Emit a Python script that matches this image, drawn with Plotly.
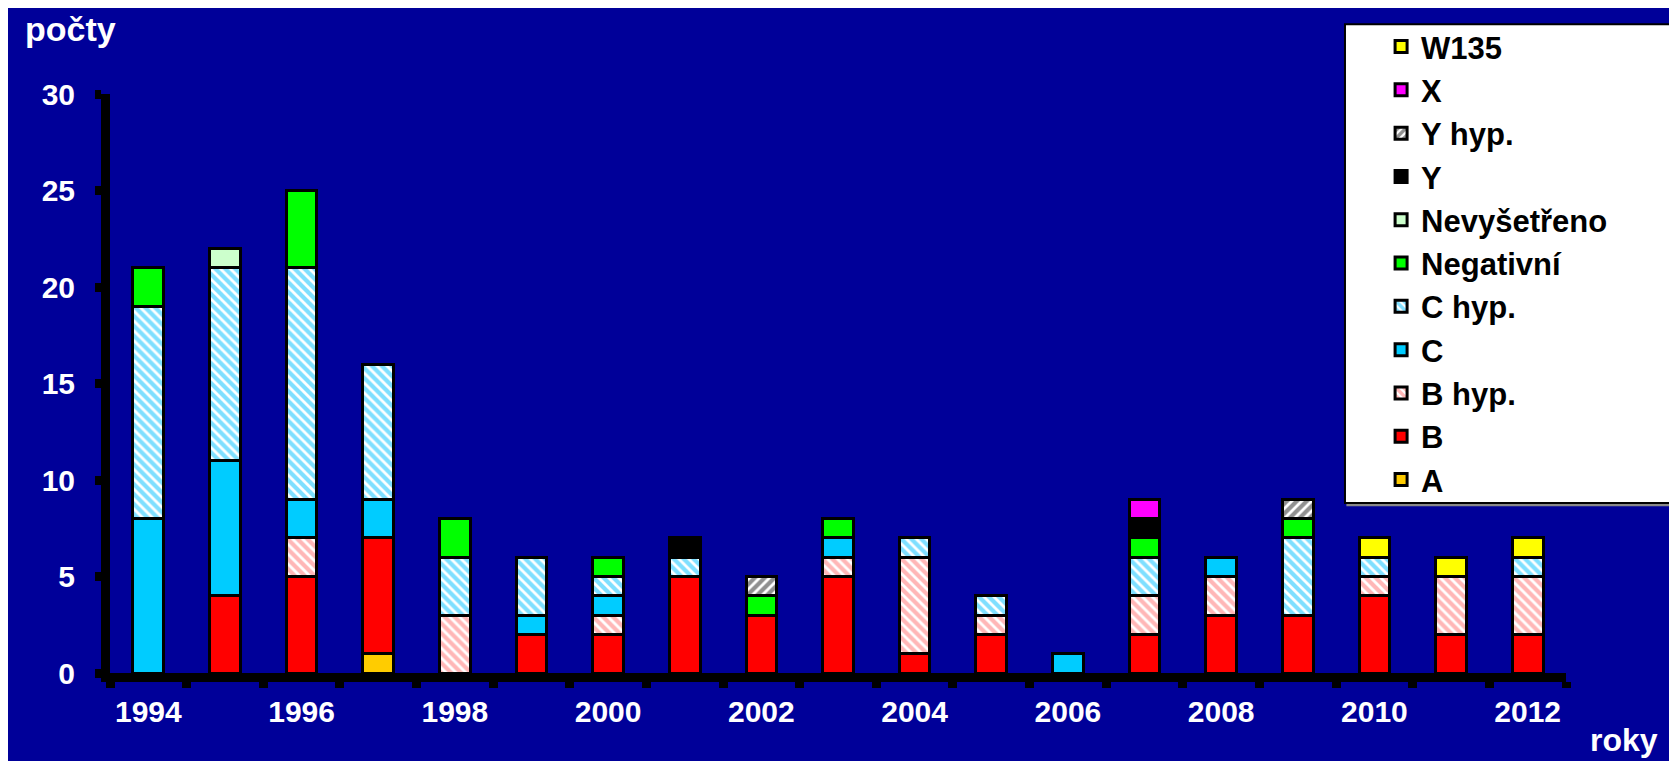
import plotly.graph_objects as go

years = list(range(1994, 2013))

# stack order from bottom to top
a_vals = [0, 0, 0, 1, 0, 0, 0, 0, 0, 0, 0, 0, 0, 0, 0, 0, 0, 0, 0]
b_vals = [0, 4, 5, 6, 0, 2, 2, 5, 3, 5, 1, 2, 0, 2, 3, 3, 4, 2, 2]
b_hyp = [0, 0, 2, 0, 3, 0, 1, 0, 0, 1, 5, 1, 0, 2, 2, 0, 1, 3, 3]
c_vals = [8, 7, 2, 2, 0, 1, 1, 0, 0, 1, 0, 0, 1, 0, 1, 0, 0, 0, 0]
c_hyp = [11, 10, 12, 7, 3, 3, 1, 1, 0, 0, 1, 1, 0, 2, 0, 4, 1, 0, 1]
negativni = [2, 0, 4, 0, 2, 0, 1, 0, 1, 1, 0, 0, 0, 1, 0, 1, 0, 0, 0]
nevysetreno = [0, 1, 0, 0, 0, 0, 0, 0, 0, 0, 0, 0, 0, 0, 0, 0, 0, 0, 0]
y_vals = [0, 0, 0, 0, 0, 0, 0, 1, 0, 0, 0, 0, 0, 1, 0, 0, 0, 0, 0]
y_hyp = [0, 0, 0, 0, 0, 0, 0, 0, 1, 0, 0, 0, 0, 0, 0, 1, 0, 0, 0]
x_vals = [0, 0, 0, 0, 0, 0, 0, 0, 0, 0, 0, 0, 0, 1, 0, 0, 0, 0, 0]
w135 = [0, 0, 0, 0, 0, 0, 0, 0, 0, 0, 0, 0, 0, 0, 0, 0, 1, 1, 1]

year_labels = [1994, 1996, 1998, 2000, 2002, 2004, 2006, 2008, 2010, 2012]

series = [
    ("A", a_vals, "#FFCC00", None),
    ("B", b_vals, "#FF0000", None),
    ("B hyp.", b_hyp, "#FF7070", "\\"),
    ("C", c_vals, "#00CCFF", None),
    ("C hyp.", c_hyp, "#00C0FF", "\\"),
    ("Negativní", negativni, "#00FF00", None),
    ("Nevyšetřeno", nevysetreno, "#CCFFCC", None),
    ("Y", y_vals, "#000000", None),
    ("Y hyp.", y_hyp, "#222222", "/"),
    ("X", x_vals, "#FF00FF", None),
    ("W135", w135, "#FFFF00", None),
]

BG = "#000099"
FONT = "Liberation Sans, Arial, sans-serif"

fig = go.Figure()
for name, vals, color, hatch in series:
    marker = dict(color=color, line=dict(color="black", width=3))
    if hatch:
        marker = dict(color="white", line=dict(color="black", width=3),
                      pattern=dict(shape=hatch, fgcolor=color, bgcolor="white",
                                   size=7, solidity=0.6))
    fig.add_trace(go.Bar(x=years, y=[v if v else None for v in vals], name=name,
                         marker=marker, width=0.4))

# legend frame (shadow + white box)
fig.add_shape(type="rect", xref="paper", yref="paper",
              x0=0.8502, x1=1.0755, y0=0.2904, y1=1.1169,
              line=dict(color="#888888", width=3), fillcolor="#888888", layer="above")
fig.add_shape(type="rect", xref="paper", yref="paper",
              x0=0.8482, x1=1.0735, y0=0.2938, y1=1.1203,
              line=dict(color="black", width=2), fillcolor="white", layer="above")

fig.add_annotation(text="<b>počty</b>", xref="paper", yref="paper",
                   x=-0.027, y=1.113, xanchor="center", yanchor="middle",
                   showarrow=False, font=dict(family=FONT, size=34, color="white"))
fig.add_annotation(text="<b>roky</b>", xref="paper", yref="paper",
                   x=1.04, y=-0.116, xanchor="center", yanchor="middle",
                   showarrow=False, font=dict(family=FONT, size=32, color="white"))

fig.update_layout(
    width=1677, height=761,
    barmode="stack",
    paper_bgcolor=BG, plot_bgcolor=BG,
    margin=dict(l=102, r=119, t=83, b=96),
    font=dict(family=FONT, color="white"),
    legend=dict(traceorder="reversed", maxheight=600,
                x=0.873, y=1.128, xanchor="left", yanchor="top",
                bgcolor="rgba(0,0,0,0)", borderwidth=0,
                font=dict(family=FONT, size=31, color="black", weight="bold")),
)
fig.update_xaxes(range=[1993.5, 2012.5], tickvals=year_labels, ticks="",
                 showgrid=False, zeroline=False,
                 showline=True, linecolor="black", linewidth=9,
                 tickfont=dict(family=FONT, size=30, color="white", weight="bold"),
                 ticklabelstandoff=4,
                 minor=dict(tickvals=[y + 0.5 for y in range(1993, 2013)],
                            ticks="outside", ticklen=6, tickwidth=9,
                            tickcolor="black", showgrid=False))
fig.update_yaxes(range=[0, 30], dtick=5, ticks="outside", ticklen=6, tickwidth=9,
                 tickcolor="black", showgrid=False, zeroline=False,
                 showline=True, linecolor="black", linewidth=9,
                 tickfont=dict(family=FONT, size=30, color="white", weight="bold"),
                 ticklabelstandoff=14)

fig.write_html("out.html")
